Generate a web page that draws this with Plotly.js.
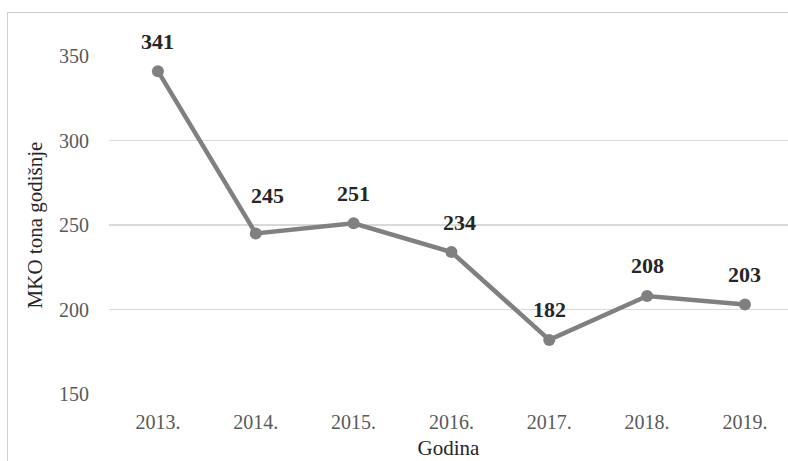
<!DOCTYPE html>
<html>
<head>
<meta charset="utf-8">
<script src="https://cdn.plot.ly/plotly-3.0.1.min.js"></script>
<style>
  html, body { margin: 0; padding: 0; background: #fff; overflow: hidden; }
  #frame { position: absolute; left: 7px; top: 12px; width: 800px; height: 470px;
           border-top: 1.5px solid #cfcfcf; border-left: 1.5px solid #cfcfcf; box-sizing: border-box; }
  #chart { position: absolute; left: 0; top: 0; width: 788px; height: 461px; }
</style>
</head>
<body>
<div id="frame"></div>
<div id="chart"></div>
<script>
const categories = ["2013.", "2014.", "2015.", "2016.", "2017.", "2018.", "2019."];
const values = [341, 245, 251, 234, 182, 208, 203];
const yTicks = [150, 200, 250, 300, 350];

const serif = "Liberation Serif, Times New Roman, serif";

// label placement tweaks (pixels), as in the original chart
const labelNudge = { "2014.": { dx: 12, dy: 38 }, "2016.": { dx: 8, dy: 30 } };

const trace = {
  x: categories,
  y: values,
  type: "scatter",
  mode: "lines+markers",
  line: { color: "#808080", width: 4.5 },
  marker: { color: "#808080", size: 12 },
  hoverinfo: "skip"
};

const annotations = values.map((v, i) => {
  const n = labelNudge[categories[i]] || { dx: 0, dy: 30 };
  return {
    x: i, y: v, xref: "x", yref: "y",
    text: "<b>" + v + "</b>",
    showarrow: false, yanchor: "middle", xanchor: "center",
    xshift: n.dx, yshift: n.dy,
    font: { family: serif, size: 22, color: "#262626" }
  };
});

const layout = {
  width: 788, height: 461,
  margin: { l: 109, r: 0, t: 56, b: 67 },
  paper_bgcolor: "rgba(0,0,0,0)",
  plot_bgcolor: "rgba(0,0,0,0)",
  showlegend: false,
  xaxis: {
    type: "category",
    range: [-0.5, 6.44],
    showgrid: false, zeroline: false, showline: false,
    ticks: "", ticklabelstandoff: 14,
    tickfont: { family: serif, size: 20, color: "#595959" },
    title: { text: "Godina", font: { family: serif, size: 21, color: "#262626" }, standoff: 8 }
  },
  yaxis: {
    range: [150, 350],
    tickvals: yTicks,
    showgrid: true, gridcolor: "#d9d9d9", gridwidth: 1.5,
    zeroline: false, showline: false,
    ticks: "", ticklabelstandoff: 19,
    tickfont: { family: serif, size: 20, color: "#595959" },
    title: { text: "MKO tona godišnje", font: { family: serif, size: 21, color: "#262626" }, standoff: 10 }
  },
  annotations: annotations
};

Plotly.newPlot("chart", [trace], layout, { displayModeBar: false, staticPlot: true });
</script>
</body>
</html>
